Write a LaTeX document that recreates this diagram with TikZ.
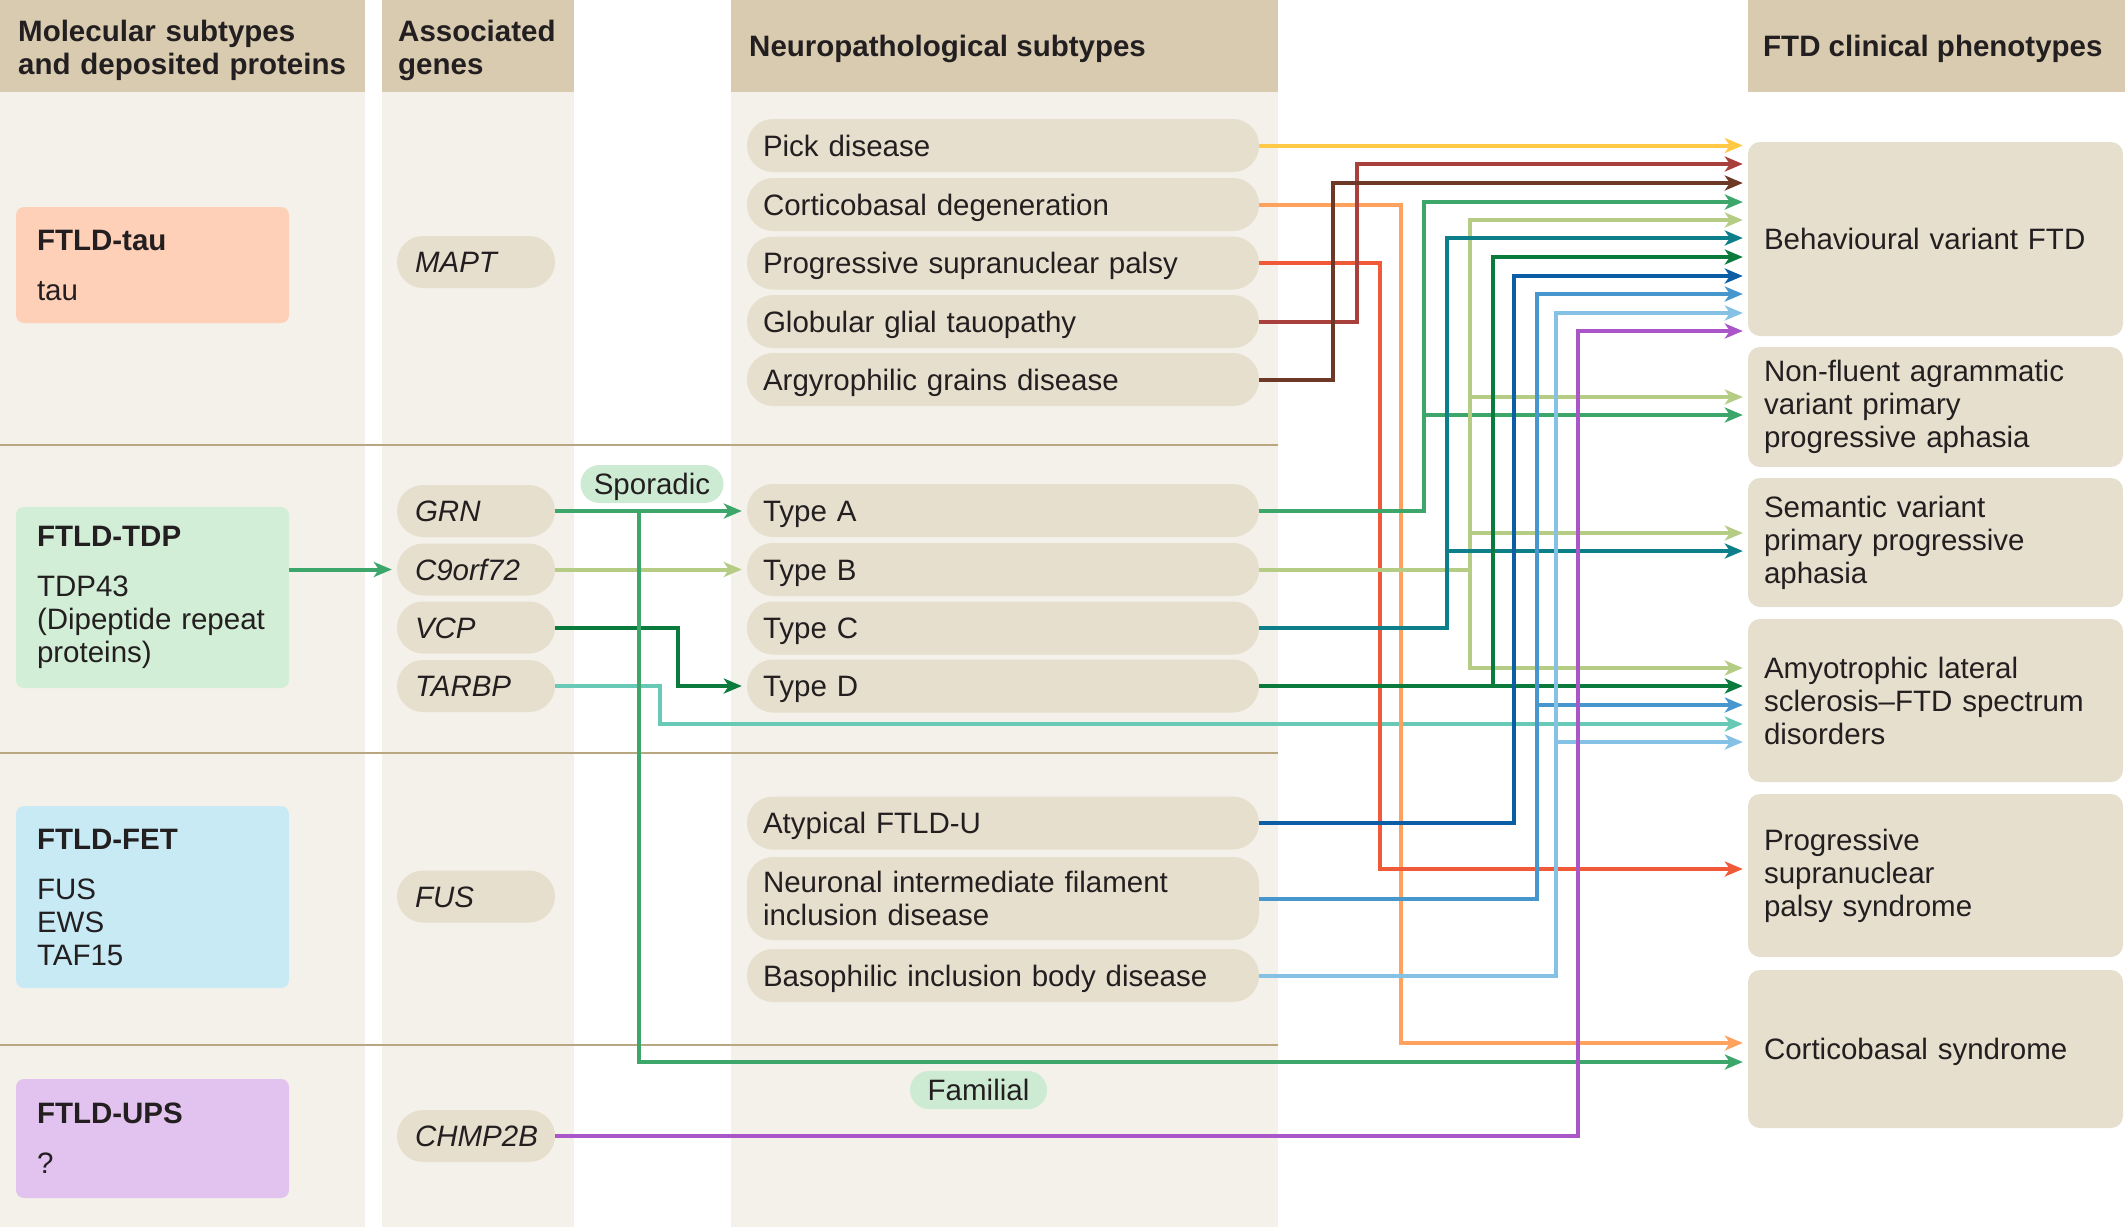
\documentclass[tikz,border=0pt]{standalone}
\usepackage{fontspec}
\setmainfont{Liberation Sans}
\usetikzlibrary{arrows.meta}
\definecolor{hdrc}{HTML}{D9CBB0}
\definecolor{colbg}{HTML}{F4F1EA}
\definecolor{pillc}{HTML}{E6DFCE}
\definecolor{sepc}{HTML}{B8A781}
\definecolor{txt}{HTML}{231F20}
\definecolor{tagc}{HTML}{CDEBD3}
\definecolor{tauc}{HTML}{FFD0B8}
\definecolor{tdpc}{HTML}{D3EED6}
\definecolor{fetc}{HTML}{C8EAF5}
\definecolor{upsc}{HTML}{E2C2EE}
\definecolor{cYel}{HTML}{FFC845}
\definecolor{cDred}{HTML}{A8403B}
\definecolor{cBrn}{HTML}{6E3826}
\definecolor{cGrn}{HTML}{3DA66A}
\definecolor{cLgr}{HTML}{B4CC83}
\definecolor{cTeal}{HTML}{0C7F8B}
\definecolor{cDgr}{HTML}{0B7A3D}
\definecolor{cBlu}{HTML}{0B5EA6}
\definecolor{cMbl}{HTML}{4896CE}
\definecolor{cLbl}{HTML}{84C1E5}
\definecolor{cPur}{HTML}{AA55C8}
\definecolor{cRed}{HTML}{F05A38}
\definecolor{cOra}{HTML}{FFA25E}
\definecolor{cCyn}{HTML}{67C9B6}
\tikzset{
  basetxt/.style={font=\fontsize{29.5}{33}\selectfont, text=txt, inner ysep=0pt},
  oneline/.style={text height=21pt, text depth=0pt},
  pillg/.style={basetxt, oneline, fill=pillc, rounded corners=26pt, minimum height=52pt, minimum width=158pt, text width=122pt, inner xsep=18pt, align=left, font=\fontsize{29.5}{33}\selectfont\itshape},
  pillbase/.style={basetxt, fill=pillc, rounded corners=26pt, minimum height=53pt, minimum width=512pt, text width=480pt, inner xsep=16pt, align=left},
  pillp/.style={pillbase, oneline},
  rbox/.style={basetxt, fill=pillc, rounded corners=12pt, minimum width=375pt, text width=343pt, inner xsep=16pt, align=left},
  lbox/.style={basetxt, rounded corners=8pt, minimum width=273pt, text width=231pt, inner xsep=21pt, align=left},
  hdr/.style={basetxt, anchor=west, align=left, font=\fontsize{29.5}{33}\selectfont\bfseries, inner xsep=0pt},
  tag/.style={basetxt, oneline, fill=tagc, rounded corners=19pt, minimum height=38pt, inner xsep=12pt},
  conn/.style={line width=4pt, -{Stealth[length=18pt,width=15pt,inset=5pt]}, shorten >=5pt},
  sepline/.style={sepc, line width=2pt}
}
\begin{document}
\begin{tikzpicture}[x=1pt,y=-1pt]
\useasboundingbox (0,0) rectangle (2125,1227);
% column backgrounds
\fill[colbg] (0,92) rectangle (365,1227);
\fill[colbg] (382,92) rectangle (574,1227);
\fill[colbg] (731,92) rectangle (1278,1227);
% header bands
\fill[hdrc] (0,0) rectangle (365,92);
\fill[hdrc] (382,0) rectangle (574,92);
\fill[hdrc] (731,0) rectangle (1278,92);
\fill[hdrc] (1748,0) rectangle (2125,92);
% header texts
\node[hdr, text width=340pt] (h1) at (18,50) {Molecular subtypes\\and deposited proteins};
\node[hdr, text width=170pt] (h2) at (398,50) {Associated\\genes};
\node[hdr, oneline] (h3) at (749,46) {Neuropathological subtypes};
\node[hdr, oneline] (h4) at (1763,46) {FTD clinical phenotypes};
% separators
\draw[sepline] (0,445) -- (1278,445);
\draw[sepline] (0,753) -- (1278,753);
\draw[sepline] (0,1045) -- (1278,1045);
% left boxes
\node[lbox, fill=tauc, minimum height=116pt] (tau) at (152.5,265) {\textbf{FTLD-tau}\\[17pt]tau};
\node[lbox, fill=tdpc, minimum height=181pt] (tdp) at (152.5,597.5) {\textbf{FTLD-TDP}\\[17pt]TDP43\\(Dipeptide repeat\\proteins)};
\node[lbox, fill=fetc, minimum height=182pt] (fet) at (152.5,897) {\textbf{FTLD-FET}\\[17pt]FUS\\EWS\\TAF15};
\node[lbox, fill=upsc, minimum height=119pt] (ups) at (152.5,1138.5) {\textbf{FTLD-UPS}\\[17pt]?};
% genes
\node[pillg] (mapt) at (476,262) {MAPT};
\node[pillg] (grn) at (476,511) {GRN};
\node[pillg] (c9) at (476,569.5) {C9orf72};
\node[pillg] (vcp) at (476,627.5) {VCP};
\node[pillg] (tarbp) at (476,686) {TARBP};
\node[pillg] (fus) at (476,896.5) {FUS};
\node[pillg] (chmp) at (476,1136) {CHMP2B};
% neuropathological subtypes
\node[pillp] (pick) at (1003,145.5) {Pick disease};
\node[pillp] (cbd) at (1003,204.5) {Corticobasal degeneration};
\node[pillp] (psp) at (1003,263) {Progressive supranuclear palsy};
\node[pillp] (ggt) at (1003,321.5) {Globular glial tauopathy};
\node[pillp] (agd) at (1003,379.5) {Argyrophilic grains disease};
\node[pillp] (ta) at (1003,510.5) {Type A};
\node[pillp] (tb) at (1003,569.5) {Type B};
\node[pillp] (tc) at (1003,628) {Type C};
\node[pillp] (td) at (1003,686) {Type D};
\node[pillp] (afu) at (1003,823) {Atypical FTLD-U};
\node[pillbase, minimum height=83pt] (nifid) at (1003,898.5) {Neuronal intermediate filament\\inclusion disease};
\node[pillp] (bibd) at (1003,975.5) {Basophilic inclusion body disease};
% tags
\node[tag, minimum width=143pt] (spor) at (652,484) {Sporadic};
\node[tag, minimum width=137pt] (fam) at (978.5,1090) {Familial};
% clinical phenotypes
\node[rbox, oneline, minimum height=194pt] (bv) at (1935.5,239) {Behavioural variant FTD};
\node[rbox, minimum height=120pt] (nfv) at (1935.5,407) {Non-fluent agrammatic\\variant primary\\progressive aphasia};
\node[rbox, minimum height=129pt] (sv) at (1935.5,542.5) {Semantic variant\\primary progressive\\aphasia};
\node[rbox, minimum height=163pt] (als) at (1935.5,700.5) {Amyotrophic lateral\\sclerosis--FTD spectrum\\disorders};
\node[rbox, minimum height=163pt] (pss) at (1935.5,875.5) {Progressive\\supranuclear\\palsy syndrome};
\node[rbox, oneline, minimum height=158pt] (cbs) at (1935.5,1049) {Corticobasal syndrome};
% connectors: left part
\draw[conn,cGrn] (tdp.east |- c9.west) -- (c9.west);
\draw[conn,cGrn] (grn.east) -- (ta.west |- grn.east);
\draw[conn,cLgr] (c9.east) -- (tb.west |- c9.east);
\draw[conn,cDgr] (vcp.east) -| (678,686) -- (td.west);
\draw[conn,cCyn] (tarbp.east) -| (660,724) -- (als.west |- 0,724);
\draw[conn,cGrn] (639,511) |- (cbs.west |- 0,1062);
% connectors: right part
\draw[conn,cYel] (pick.east) -- (bv.west |- pick.east);
\draw[conn,cOra] (cbd.east) -| (1401,1043) -- (cbs.west |- 0,1043);
\draw[conn,cRed] (psp.east) -| (1380,869) -- (pss.west |- 0,869);
\draw[conn,cDred] (ggt.east) -| (1357,164) -- (bv.west |- 0,164);
\draw[conn,cBrn] (agd.east) -| (1333,183) -- (bv.west |- 0,183);
\draw[conn,cGrn] (ta.east) -| (1424,202) -- (bv.west |- 0,202);
\draw[conn,cGrn] (1424,415) -- (nfv.west |- 0,415);
\draw[conn,cLgr] (tb.east) -| (1470,220) -- (bv.west |- 0,220);
\draw[conn,cLgr] (1470,569.5) |- (als.west |- 0,668);
\draw[conn,cLgr] (1470,397) -- (nfv.west |- 0,397);
\draw[conn,cLgr] (1470,533) -- (sv.west |- 0,533);
\draw[conn,cTeal] (tc.east) -| (1447,238) -- (bv.west |- 0,238);
\draw[conn,cTeal] (1447,551) -- (sv.west |- 0,551);
\draw[conn,cDgr] (td.east) -- (als.west |- td.east);
\draw[conn,cDgr] (1493,686) |- (bv.west |- 0,257);
\draw[conn,cBlu] (afu.east) -| (1514,276) -- (bv.west |- 0,276);
\draw[conn,cMbl] (nifid.east) -| (1537,294) -- (bv.west |- 0,294);
\draw[conn,cMbl] (1537,705) -- (als.west |- 0,705);
\draw[conn,cLbl] (bibd.east) -| (1556,313) -- (bv.west |- 0,313);
\draw[conn,cLbl] (1556,742) -- (als.west |- 0,742);
\draw[conn,cPur] (chmp.east) -| (1578,331) -- (bv.west |- 0,331);
\end{tikzpicture}
\end{document}
